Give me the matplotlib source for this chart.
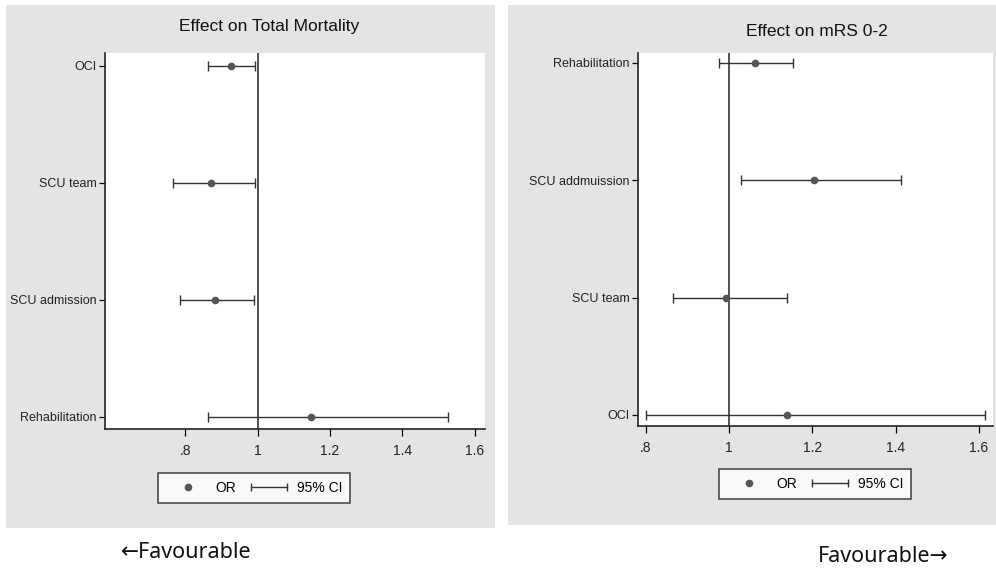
import matplotlib.pyplot as plt
from matplotlib.lines import Line2D
from matplotlib.patches import Rectangle
from matplotlib.legend_handler import HandlerLine2D

plt.rcParams['font.family'] = ['Liberation Sans Narrow', 'Liberation Sans', 'DejaVu Sans']

# Effect on total mortality (top to bottom)
mort_labels = ["OCI", "SCU team", "SCU admission", "Rehabilitation"]
mort_or = [0.927, 0.871, 0.883, 1.147]
mort_lo = [0.863, 0.767, 0.786, 0.863]
mort_hi = [0.993, 0.993, 0.990, 1.526]

# Effect on mRS 0-2 (top to bottom)
mrs_labels = ["Rehabilitation", "SCU addmuission", "SCU team", "OCI"]
mrs_or = [1.062, 1.203, 0.992, 1.138]
mrs_lo = [0.975, 1.028, 0.865, 0.800]
mrs_hi = [1.153, 1.412, 1.138, 1.614]

xticks = [0.8, 1.0, 1.2, 1.4, 1.6]
xticklabels = [".8", "1", "1.2", "1.4", "1.6"]

W, H = 996, 571
fig = plt.figure(figsize=(W / 100, H / 100), dpi=100)
fig.patch.set_facecolor("white")

# grey panel backgrounds
for (x0, y0, x1, y1) in [(6, 5, 495, 528), (508, 5, 996, 525)]:
    fig.patches.append(Rectangle((x0 / W, 1 - y1 / H), (x1 - x0) / W, (y1 - y0) / H,
                                 transform=fig.transFigure, facecolor="#e4e4e4",
                                 edgecolor="none", zorder=-5))


def px_axes(x0, y0, x1, y1):
    return fig.add_axes([x0 / W, 1 - y1 / H, (x1 - x0) / W, (y1 - y0) / H])


def forest(ax, labels, orv, lo, hi, xlim, ylim, title, title_xy):
    n = len(labels)
    ypos = list(range(n, 0, -1))
    ax.set_facecolor("white")
    ax.axvline(1, color="#222222", lw=1.1, zorder=1)
    err = [[o - l for o, l in zip(orv, lo)], [h - o for o, h in zip(orv, hi)]]
    ax.errorbar(orv, ypos, xerr=err, fmt="none", ecolor="#333333", elinewidth=1.0,
                capsize=3.5, capthick=1.0, zorder=2)
    ax.plot(orv, ypos, "o", color="#555555", ms=4.5, zorder=3)
    ax.set_xlim(*xlim)
    ax.set_ylim(*ylim)
    ax.set_yticks(ypos)
    ax.set_yticklabels(labels, fontsize=9, color="#222222")
    ax.set_xticks(xticks)
    ax.set_xticklabels(xticklabels, fontsize=10, color="#222222")
    ax.tick_params(axis="y", length=4, width=0.9, pad=2)
    ax.tick_params(axis="x", length=5, width=0.9, pad=6)
    for s in ["top", "right"]:
        ax.spines[s].set_visible(False)
    for s in ["left", "bottom"]:
        ax.spines[s].set_linewidth(1.2)
        ax.spines[s].set_color("#222222")
    fig.text(title_xy[0] / W, 1 - title_xy[1] / H, title, ha="center", va="center",
             fontsize=12.5, color="#111111")


ax1 = px_axes(105, 53, 485, 429)
forest(ax1, mort_labels, mort_or, mort_lo, mort_hi, (0.579, 1.628), (0.897, 4.11),
       "Effect on Total Mortality", (269, 27))

ax2 = px_axes(638, 53, 993, 426)
forest(ax2, mrs_labels, mrs_or, mrs_lo, mrs_hi, (0.781, 1.634), (0.906, 4.085),
       "Effect on mRS 0-2", (817, 32))

# legends
h_or = Line2D([], [], marker="o", ls="none", color="#555555", ms=4.5)
h_ci = Line2D([], [], marker="|", ls="-", color="#333333", lw=1.0, ms=6, mew=1.0)
hmap = {h_ci: HandlerLine2D(numpoints=2), h_or: HandlerLine2D(numpoints=1)}
for (cx, cy) in [(254, 488), (815, 484)]:
    leg = fig.legend([h_or, h_ci], ["OR", "95% CI"], handler_map=hmap, ncol=2,
                     loc="center", bbox_to_anchor=(cx / W, 1 - cy / H),
                     frameon=True, fancybox=False, fontsize=10, handlelength=3.2,
                     handletextpad=0.4, columnspacing=0.8, borderpad=0.55)
    leg.get_frame().set_edgecolor("#111111")
    leg.get_frame().set_linewidth(1.1)

fig.text(186 / W, 1 - 553 / H, "\u2190Favourable", ha="center", va="center",
         fontsize=15.5, family=["Noto Sans", "DejaVu Sans"], color="#111111")
fig.text(883 / W, 1 - 557 / H, "Favourable\u2192", ha="center", va="center",
         fontsize=15.5, family=["Noto Sans", "DejaVu Sans"], color="#111111")

fig.savefig("out.png", dpi=100)
